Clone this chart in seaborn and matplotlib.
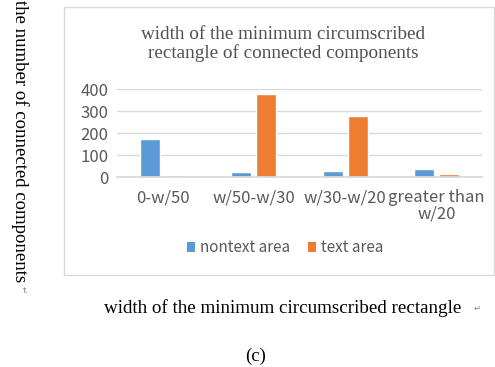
import matplotlib
matplotlib.use("Agg")
import matplotlib.pyplot as plt
import seaborn as sns
import pandas as pd
from matplotlib.patches import Rectangle, Patch

categories = ["0-w/50", "w/50-w/30", "w/30-w/20", "greater than\nw/20"]
nontext_area = [173, 21, 27, 36]
text_area = [7, 379, 276, 14]
series_names = ["nontext area", "text area"]
y_ticks = [0, 100, 200, 300, 400]

df = pd.DataFrame({
    "category": categories * 2,
    "count": nontext_area + text_area,
    "series": [series_names[0]] * len(categories) + [series_names[1]] * len(categories),
})

sns.set_theme(style="white")
plt.rcParams["font.family"] = ["Noto Sans CJK SC", "DejaVu Sans"]

W, H = 495, 367
fig = plt.figure(figsize=(W / 100, H / 100), dpi=100)
fig.patch.set_facecolor("white")

def px(x0, y0, x1, y1):
    return [x0 / W, 1 - y1 / H, (x1 - x0) / W, (y1 - y0) / H]

# chart frame
fig.patches.append(Rectangle((64 / W, 1 - 275 / H), (494 - 64) / W, (275 - 7) / H,
                             transform=fig.transFigure, fill=False,
                             edgecolor="#D9D9D9", linewidth=1.0))

ax = fig.add_axes(px(117, 89, 482, 177))
palette = {series_names[0]: "#5B9BD5", series_names[1]: "#ED7D31"}
sns.barplot(data=df, x="category", y="count", hue="series", palette=palette,
            width=0.55, gap=0.2, ax=ax, legend=False, saturation=1)

ax.set_ylim(0, 400)
ax.set_yticks(y_ticks)
ax.set_xlim(-0.5, len(categories) - 0.5)
ax.grid(axis="y", color="#D9D9D9", linewidth=1.0)
ax.set_axisbelow(True)
for s in ["top", "right", "left"]:
    ax.spines[s].set_visible(False)
ax.spines["bottom"].set_color("#D9D9D9")
ax.tick_params(axis="both", length=0, labelsize=12, labelcolor="#595959", pad=6)
ax.tick_params(axis="x", pad=9)
ax.set_xlabel("")
ax.set_ylabel("")
for lbl in ax.get_xticklabels():
    lbl.set_linespacing(0.95)

# chart title
fig.text(283 / W, 1 - 44 / H,
         "width of the minimum circumscribed\nrectangle of connected components",
         ha="center", va="center", family="Liberation Serif", fontsize=13.8,
         color="#505050", linespacing=1.1)

# legend
handles = [Patch(facecolor=palette[n], edgecolor="none") for n in series_names]
fig.legend(handles, series_names, loc="center", bbox_to_anchor=(285 / W, 1 - 248 / H),
           ncol=2, frameon=False, handlelength=0.55, handleheight=0.55,
           handletextpad=0.3, columnspacing=1.2,
           prop={"family": "Noto Sans CJK SC", "size": 11}, labelcolor="#595959")

# outer axis labels
fig.text(20 / W, 1 - 0 / H, "the number of connected components",
         rotation=270, ha="center", va="top", family="Liberation Serif",
         fontsize=13.5, color="black")
fig.text(23 / W, 1 - 290 / H, "\u21b5", rotation=270, ha="center", va="center",
         family="DejaVu Sans", fontsize=6, color="#808080")
fig.text(104 / W, 1 - 308 / H, "width of the minimum circumscribed rectangle",
         ha="left", va="center", family="Liberation Serif", fontsize=13.7, color="black")
fig.text(477 / W, 1 - 308 / H, "\u21b5", ha="center", va="center",
         family="DejaVu Sans", fontsize=6, color="#808080")
fig.text(256 / W, 1 - 356 / H, "(c)", ha="center", va="center",
         family="Liberation Serif", fontsize=13.5, color="black")

fig.savefig("out.png", dpi=100)
